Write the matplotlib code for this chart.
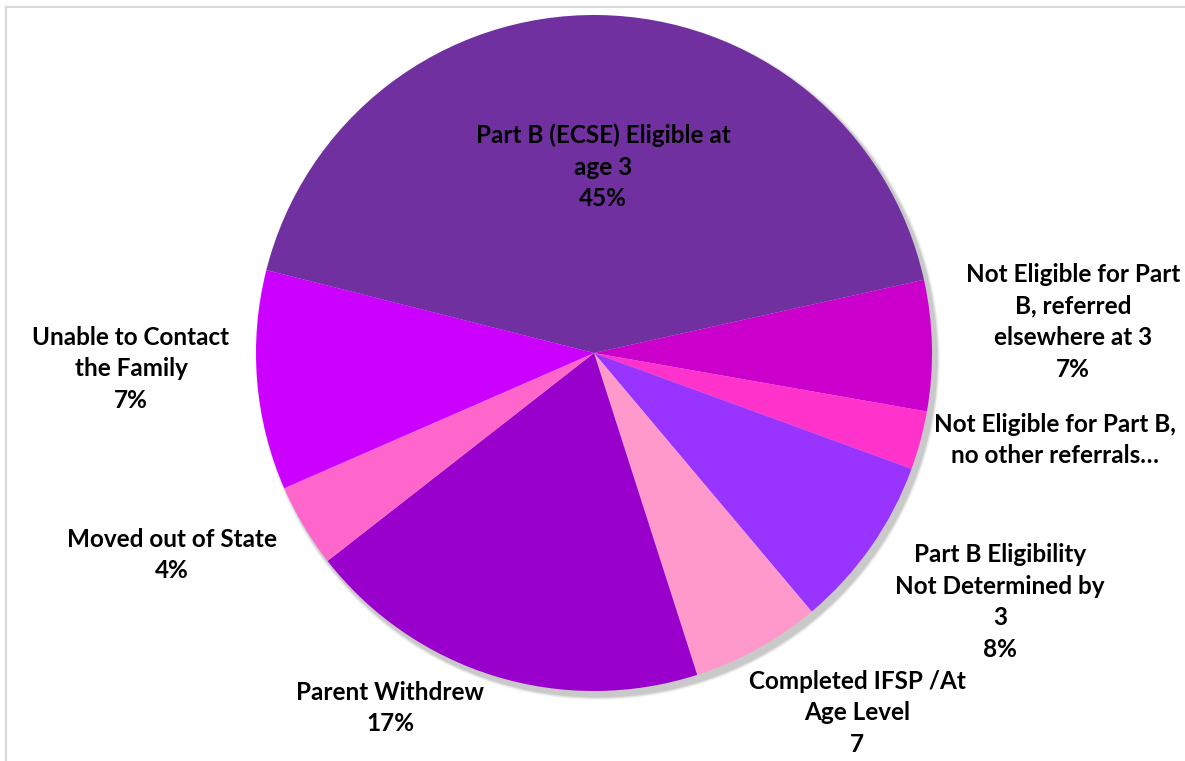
import matplotlib
matplotlib.use("Agg")
import matplotlib.pyplot as plt
from matplotlib.patches import Circle, Rectangle

categories = [
    "Part B (ECSE) Eligible at age 3",
    "Not Eligible for Part B, referred elsewhere at 3",
    "Not Eligible for Part B, no other referrals",
    "Part B Eligibility Not Determined by 3",
    "Completed IFSP /At Age Level",
    "Parent Withdrew",
    "Moved out of State",
    "Unable to Contact the Family",
]
values = [42.6, 6.25, 2.8, 8.3, 6.2, 19.4, 4.0, 10.5]
label_texts = [
    "Part B (ECSE) Eligible at\nage 3\n45%",
    "Not Eligible for Part\nB, referred\nelsewhere at 3\n7%",
    "Not Eligible for Part B,\nno other referrals\u2026",
    "Part B Eligibility\nNot Determined by\n3\n8%",
    "Completed IFSP /At\nAge Level\n7",
    "Parent Withdrew\n17%",
    "Moved out of State\n4%",
    "Unable to Contact\nthe Family\n7%",
]
colors = ["#7030A0", "#CC00CC", "#FF33CC", "#9933FF",
          "#FF99CC", "#9900CC", "#FF66CC", "#CC00FF"]
label_pos = [(603, 167), (1073, 322), (1055, 440), (1000, 602),
             (857, 713), (390, 708), (172, 555), (131, 369)]

W, H = 1185, 761
fig = plt.figure(figsize=(W / 100, H / 100), dpi=100)
ax = fig.add_axes([0, 0, 1, 1])
cx, cy, r = 594, H - 353, 338

# soft shadow
for k, a in [(6, 0.025), (5, 0.035), (4, 0.045), (3, 0.055), (2, 0.065)]:
    ax.add_patch(Circle((cx + 4, cy - 5), r + k * 0.7, color="black",
                        alpha=a, lw=0, zorder=0))

ax.pie(values, colors=colors, startangle=165.8, counterclock=False,
       center=(cx, cy), radius=r, wedgeprops=dict(linewidth=0))
ax.set_xlim(0, W)
ax.set_ylim(0, H)
ax.set_aspect("equal")
ax.axis("off")

ax.add_patch(Rectangle((6, -10), W + 20, H - 7 + 10, fill=False,
                       edgecolor="#D9D9D9", lw=1.5, zorder=5))

for txt, (x, y) in zip(label_texts, label_pos):
    ax.text(x, H - y, txt, ha="center", va="center", fontsize=17.5,
            fontweight="bold", family=["Lato", "DejaVu Sans"],
            color="#000000", linespacing=1.45, zorder=6)

fig.savefig("out.png", dpi=100)
